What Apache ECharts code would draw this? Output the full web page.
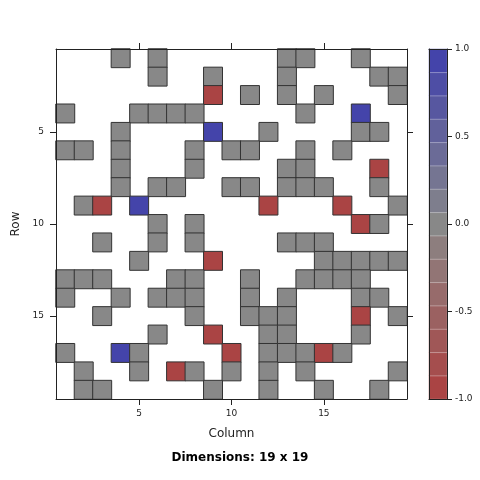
<!DOCTYPE html>
<html>
<head>
<meta charset="utf-8">
<script src="https://cdn.jsdelivr.net/npm/echarts@6/dist/echarts.min.js"></script>
<style>html,body{margin:0;padding:0;background:#fff;}#c{width:480px;height:480px;}</style>
</head>
<body>
<div id="c"></div>
<script>
// ---- data ----
const categories = ['1','2','3','4','5','6','7','8','9','10','11','12','13','14','15','16','17','18','19'];
const tickLabels = ['5','10','15'];
const colorTicks = [-1, -0.5, 0, 0.5, 1];
const nBands = 15;
// non-empty cells per row (row 1 = top): column numbers and values
const colsByRow = [
  [4,6,13,14,17],
  [6,9,13,18,19],
  [9,11,13,15,19],
  [1,5,6,7,8,14,17],
  [4,9,12,17,18],
  [1,2,4,8,10,11,14,16],
  [4,8,13,14,18],
  [4,6,7,10,11,13,14,15,18],
  [2,3,5,12,16,19],
  [6,8,17,18],
  [3,6,8,13,14,15],
  [5,9,15,16,17,18,19],
  [1,2,3,7,8,11,14,15,16,17],
  [1,4,6,7,8,11,13,17,18],
  [3,8,11,12,13,17,19],
  [6,9,12,13,17],
  [1,4,5,10,12,13,14,15,16],
  [2,5,7,8,10,12,14,19],
  [2,3,9,12,15,18]
];
const valsByRow = [
  [0,0,0,0,0],
  [0,0,0,0,0],
  [-1,0,0,0,0],
  [0,0,0,0,0,0,1],
  [0,1,0,0,0],
  [0,0,0,0,0,0,0,0],
  [0,0,0,0,-1],
  [0,0,0,0,0,0,0,0,0],
  [0,-1,1,-1,-1,0],
  [0,0,-1,0],
  [0,0,0,0,0,0],
  [0,-1,0,0,0,0,0],
  [0,0,0,0,0,0,0,0,0,0],
  [0,0,0,0,0,0,0,0,0],
  [0,0,0,0,0,-1,0],
  [0,-1,0,0,0],
  [0,1,0,-1,0,0,0,-1,0],
  [0,0,-1,0,0,0,0,0],
  [0,0,0,0,0,0]
];

// ---- build ----
const cells = [];
colsByRow.forEach((cols, r) => {
  cols.forEach((c, i) => cells.push([c - 1, r, valsByRow[r][i]]));
});

const RED = [170, 68, 68], GRAY = [136, 136, 136], BLUE = [68, 68, 170];
function bandColor(k) {
  const mid = (nBands - 1) / 2;
  const end = k < mid ? RED : BLUE;
  const t = Math.abs(k - mid) / mid;
  const c = GRAY.map((g, j) => Math.round(g + t * (end[j] - g)));
  return 'rgb(' + c.join(',') + ')';
}
const step = 2 / nBands;
const pieces = [];
const bandCats = [];
const bandData = [];
for (let k = 0; k < nBands; k++) {
  const lo = -1 + k * step, hi = lo + step;
  pieces.push({ gt: k === 0 ? -1.001 : lo, lte: k === nBands - 1 ? 1.001 : hi, color: bandColor(k) });
  bandCats.push('b' + k);
  bandData.push([0, k, lo + step / 2]);
}

const isTick = (idx) => tickLabels.indexOf(categories[idx]) >= 0;
const axisColor = '#222';
const font = 'DejaVu Sans';

const chart = echarts.init(document.getElementById('c'), null, { renderer: 'canvas' });
chart.setOption({
  animation: false,
  backgroundColor: '#fff',
  textStyle: { fontFamily: font },
  title: {
    text: 'Dimensions: 19 x 19',
    left: 'center', top: 447,
    textStyle: { fontFamily: font, fontSize: 12, fontWeight: 'bold', color: '#000' }
  },
  grid: [
    { left: 56, top: 49, width: 351, height: 350, show: false },
    { left: 429, top: 49, width: 18, height: 350, show: false }
  ],
  xAxis: [
    { type: 'category', gridIndex: 0, data: categories, position: 'bottom', z: 5,
      name: 'Column', nameLocation: 'middle', nameGap: 29,
      nameTextStyle: { fontFamily: font, fontSize: 12, color: '#222' },
      axisLine: { show: true, onZero: false, lineStyle: { color: axisColor, width: 1 } },
      axisTick: { show: true, alignWithLabel: true, length: 6, interval: (i) => isTick(i), lineStyle: { color: axisColor } },
      axisLabel: { show: true, interval: (i) => isTick(i), margin: 10, fontSize: 9, fontFamily: font, color: '#222' },
      splitLine: { show: false } },
    { type: 'category', gridIndex: 0, data: categories, position: 'top', z: 5,
      axisLine: { show: true, onZero: false, lineStyle: { color: axisColor, width: 1 } },
      axisTick: { show: true, alignWithLabel: true, length: 6, interval: (i) => isTick(i), lineStyle: { color: axisColor } },
      axisLabel: { show: false }, splitLine: { show: false } },
    { type: 'category', gridIndex: 1, data: ['cb'], position: 'bottom', z: 5,
      axisLine: { show: true, onZero: false, lineStyle: { color: axisColor, width: 1 } },
      axisTick: { show: false }, axisLabel: { show: false } },
    { type: 'category', gridIndex: 1, data: ['cb'], position: 'top', z: 5,
      axisLine: { show: true, onZero: false, lineStyle: { color: axisColor, width: 1 } },
      axisTick: { show: false }, axisLabel: { show: false } }
  ],
  yAxis: [
    { type: 'category', gridIndex: 0, data: categories, inverse: true, position: 'left', z: 5,
      name: 'Row', nameLocation: 'middle', nameGap: 33, nameRotate: 90,
      nameTextStyle: { fontFamily: font, fontSize: 12, color: '#222' },
      axisLine: { show: true, onZero: false, lineStyle: { color: axisColor, width: 1 } },
      axisTick: { show: true, alignWithLabel: true, length: 6, interval: (i) => isTick(i), lineStyle: { color: axisColor } },
      axisLabel: { show: true, interval: (i) => isTick(i), margin: 12, fontSize: 9, fontFamily: font, color: '#222' },
      splitLine: { show: false } },
    { type: 'category', gridIndex: 0, data: categories, inverse: true, position: 'right', z: 5,
      axisLine: { show: true, onZero: false, lineStyle: { color: axisColor, width: 1 } },
      axisTick: { show: true, alignWithLabel: true, length: 6, interval: (i) => isTick(i), lineStyle: { color: axisColor } },
      axisLabel: { show: false }, splitLine: { show: false } },
    { type: 'category', gridIndex: 1, data: bandCats, position: 'left', z: 5,
      axisLine: { show: true, onZero: false, lineStyle: { color: axisColor, width: 1 } },
      axisTick: { show: false }, axisLabel: { show: false } },
    { type: 'value', gridIndex: 1, min: colorTicks[0], max: colorTicks[colorTicks.length - 1], interval: 0.5,
      position: 'right', z: 5,
      axisLine: { show: true, onZero: false, lineStyle: { color: axisColor, width: 1 } },
      axisTick: { show: true, length: 5, lineStyle: { color: axisColor } },
      axisLabel: { show: true, margin: 8, fontSize: 9, fontFamily: font, color: '#222',
        formatter: (v) => v.toFixed(1) },
      splitLine: { show: false } }
  ],
  visualMap: {
    type: 'piecewise', show: false, dimension: 2, seriesIndex: [0, 1],
    pieces: pieces
  },
  series: [
    { type: 'heatmap', xAxisIndex: 0, yAxisIndex: 0, data: cells,
      itemStyle: { borderColor: '#333', borderWidth: 1 },
      emphasis: { disabled: true } },
    { type: 'heatmap', xAxisIndex: 2, yAxisIndex: 2, data: bandData,
      itemStyle: { borderColor: 'rgba(255,255,255,0.3)', borderWidth: 1 },
      emphasis: { disabled: true } }
  ]
});
</script>
</body>
</html>
